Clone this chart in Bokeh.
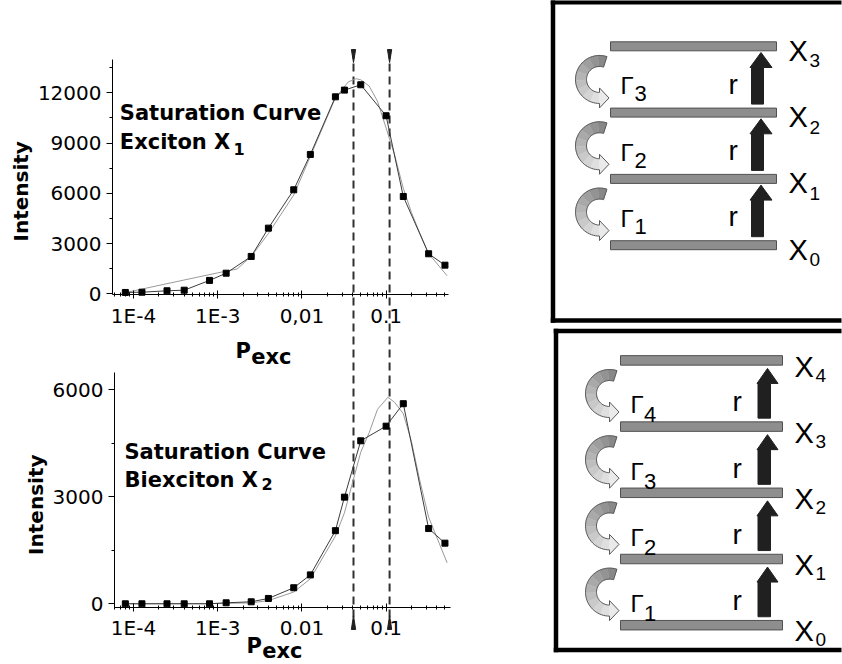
import math
from bokeh.plotting import figure
from bokeh.models import Range1d, LinearAxis, LogAxis, FixedTicker, Label
from bokeh.layouts import row
from bokeh.embed import file_html
from bokeh.resources import INLINE
from bokeh.core.properties import value

# ---------------- data ----------------
p_exc = [8e-5, 1.26e-4, 2.5e-4, 4e-4, 8e-4, 1.26e-3, 2.5e-3, 4e-3, 8e-3,
         1.26e-2, 2.5e-2, 3.2e-2, 5e-2, 0.1, 0.16, 0.32, 0.5]
exciton_x1 = [80, 95, 180, 215, 800, 1230, 2230, 3920, 6210,
              8320, 11760, 12160, 12480, 10630, 5810, 2390, 1710]
biexciton_x2 = [0, 0, 0, 0, 0, 28, 56, 150, 450,
                810, 2050, 2990, 4570, 4980, 5610, 2110, 1700]

fit_x_exciton = [8e-5, 3.2e-4, 1e-3, 1.7e-3, 2.5e-3, 4e-3, 8e-3, 1.26e-2, 2.5e-2,
                 3.55e-2, 4.4e-2, 5e-2, 6.3e-2, 7.9e-2, 0.1, 0.126, 0.16, 0.2,
                 0.25, 0.32, 0.53]
fit_exciton = [70, 720, 1250, 1480, 2230, 3600, 5900, 8200, 11700,
               12650, 12840, 12780, 12400, 11500, 9900, 8300, 6300, 4850,
               3650, 2400, 1080]
fit_x_biexciton = [8e-5, 1e-3, 2.5e-3, 4e-3, 8e-3, 1.26e-2, 2.5e-2, 3.2e-2, 4e-2,
                   5e-2, 6.3e-2, 7.9e-2, 0.105, 0.126, 0.16, 0.2, 0.25, 0.32, 0.53]
fit_biexciton = [5, 10, 25, 90, 330, 700, 1900, 2550, 3400,
                 4250, 4800, 5450, 5790, 5650, 5330, 4550, 3480, 2430, 1150]

markers = [0.041, 0.11]           # dashed P_exc markers

x_major = [1e-4, 1e-3, 1e-2, 1e-1]
top_x_labels = ["1E-4", "1E-3", "0,01", "0.1"]
bot_x_labels = ["1E-4", "1E-3", "0.01", "0.1"]
top_y_ticks = [0, 3000, 6000, 9000, 12000]
top_y_minor = [1500, 4500, 7500, 10500, 13500]
bot_y_ticks = [0, 3000, 6000]
bot_y_minor = [1500, 4500]

exciton_levels = ["0", "1", "2", "3"]
biexciton_levels = ["0", "1", "2", "3", "4"]

# ---------------- helpers: page pixel -> data, used to place annotations ----------------
PX_1E4, PX_DEC = 133.0, 84.2
def lx(px):
    return 10 ** (-4 + (px - PX_1E4) / PX_DEC)
def ty(py):
    return (293.3 - py) / 16.75 * 1000.0
def by(py):
    return (603.3 - py) / 35.67 * 1000.0

W_L, W_R, H = 540, 302, 662

# ---------------- left figure: both saturation curves ----------------
left = figure(width=W_L, height=H, x_axis_type="log",
              x_range=Range1d(lx(0), lx(W_L)), y_range=Range1d(ty(H), ty(0)),
              x_axis_location=None, y_axis_location=None, toolbar_location=None,
              output_backend="svg", title=None, min_border=0)
left.extra_y_ranges = {"bot": Range1d(by(H), by(0))}
left.grid.visible = False
left.outline_line_color = None

left.segment(x0=markers, y0=[ty(50)] * len(markers), x1=markers, y1=[ty(628)] * len(markers),
             line_color="#303030", line_width=2, line_dash="8 5")
tri_xs = [[m / 1.06, m * 1.06, m] for m in markers]
left.patches(tri_xs, [[ty(49), ty(49), ty(62)] for _ in markers], color="#202020")
left.patches(tri_xs, [[by(629), by(629), by(615)] for _ in markers], color="#202020",
             y_range_name="bot")

left.line(fit_x_exciton, fit_exciton, line_color="#9a9a9a", line_width=1)
left.line(p_exc, exciton_x1, line_color="#3c3c3c", line_width=1)
left.scatter(p_exc, exciton_x1, marker="square", size=6, color="black")

left.line(fit_x_biexciton, fit_biexciton, line_color="#9a9a9a", line_width=1, y_range_name="bot")
left.line(p_exc, biexciton_x2, line_color="#3c3c3c", line_width=1, y_range_name="bot")
left.scatter(p_exc, biexciton_x2, marker="square", size=6, color="black", y_range_name="bot")

X_LO, X_HI = lx(112), lx(450)
minor_x = [k * 10.0 ** e for e in range(-5, 0) for k in range(2, 10)
           if X_LO <= k * 10.0 ** e <= X_HI]

def style_axis(ax, vertical):
    ax.axis_line_color = "black"
    ax.major_tick_line_color = "black"
    ax.minor_tick_line_color = "black"
    ax.major_label_text_font = "DejaVu Sans"
    ax.major_label_text_font_size = "20px"
    ax.major_label_text_color = "black"
    if vertical:
        ax.major_tick_in, ax.major_tick_out = 0, 6
        ax.minor_tick_in, ax.minor_tick_out = 0, 3
        ax.major_label_standoff = 5
    else:
        ax.major_tick_in, ax.major_tick_out = 4, 4
        ax.minor_tick_in, ax.minor_tick_out = 2, 2
        ax.major_label_standoff = 5

ax_ty = LinearAxis(ticker=FixedTicker(ticks=top_y_ticks, minor_ticks=top_y_minor),
                   fixed_location=lx(112), bounds=(ty(294), ty(59.3)))
ax_by = LinearAxis(ticker=FixedTicker(ticks=bot_y_ticks, minor_ticks=bot_y_minor),
                   y_range_name="bot", fixed_location=lx(114), bounds=(by(606.7), by(372.3)))
ax_tx = LogAxis(ticker=FixedTicker(ticks=x_major, minor_ticks=minor_x),
                fixed_location=ty(294), bounds=(lx(112), lx(448)),
                major_label_overrides=dict(zip(x_major, top_x_labels)))
ax_bx = LogAxis(ticker=FixedTicker(ticks=x_major, minor_ticks=minor_x),
                y_range_name="bot", fixed_location=by(606.7), bounds=(lx(114), lx(450)),
                major_label_overrides=dict(zip(x_major, bot_x_labels)))
for ax, vert in ((ax_ty, True), (ax_by, True), (ax_tx, False), (ax_bx, False)):
    style_axis(ax, vert)
left.add_layout(ax_ty, "left")
left.add_layout(ax_by, "left")
left.add_layout(ax_tx, "below")
left.add_layout(ax_bx, "below")

def note(fig, x, y, text, size, yr="default", angle=0.0, align="left", baseline="alphabetic",
         font="DejaVu Sans", style="bold"):
    fig.add_layout(Label(x=x, y=y, text=text, text_font=font, text_font_size=size,
                         text_font_style=style, text_color="black", angle=angle,
                         text_align=align, text_baseline=baseline, y_range_name=yr))

note(left, lx(119.3), ty(112.7), "Saturation Curve", "21px")
note(left, lx(119.3), ty(141.7), "Exciton X", "21px")
note(left, lx(233), ty(148.3), "1", "16px")
note(left, lx(124), by(451), "Saturation Curve", "21px", yr="bot")
note(left, lx(124), by(479.3), "Biexciton X", "21px", yr="bot")
note(left, lx(261), by(483.3), "2", "16px", yr="bot")

note(left, lx(20.8), ty(190.8), "Intensity", "20px", angle=math.pi / 2, align="center", baseline="middle")
note(left, lx(35.8), by(504.2), "Intensity", "20px", yr="bot", angle=math.pi / 2, align="center", baseline="middle")

note(left, lx(235), ty(350), "P", "21px")
note(left, lx(250.7), ty(356.7), "exc", "21px")
note(left, lx(246), by(645), "P", "21px", yr="bot")
note(left, lx(261.7), by(650.5), "exc", "21px", yr="bot")

# ---------------- right figure: level schemes ----------------
right = figure(width=W_R, height=H, x_range=Range1d(W_L, W_L + W_R), y_range=Range1d(H, 0),
               x_axis_location=None, y_axis_location=None, toolbar_location=None,
               output_backend="svg", title=None, min_border=0)
right.grid.visible = False
right.outline_line_color = None

top_geo = dict(box=(552.5, 1.8, 320), bar=(610, 776), y0=244.7, pitch=66.3, bar_h=9,
               shaft=(751, 763), head=(749.5, 771.5), head_h=15, tip_gap=1.7, foot_gap=4,
               curl_cx=599, gamma_x=620, gamma_dy=-22.3, gsub_dx=14, gsub_dy=8,
               r_x=728, r_dy=-24, X_x=788, X_dy=0, xsub_dx=21, xsub_dy=10)
bot_geo = dict(box=(555.5, 330.5, 649.5), bar=(620, 782), y0=624.7, pitch=66.2, bar_h=9.5,
               shaft=(757.5, 770), head=(756.5, 777.5), head_h=15, tip_gap=3.3, foot_gap=3.7,
               curl_cx=609, gamma_x=630, gamma_dy=-17, gsub_dx=13.5, gsub_dy=10,
               r_x=732, r_dy=-20, X_x=794, X_dy=1.5, xsub_dx=21, xsub_dy=8.5)

def grey(t):
    v = int(round(0x88 + (0xea - 0x88) * t))
    return "#%02x%02x%02x" % (v, v, v)

def curl(fig, cx, cy, r_in=13.0, r_out=24.0, th0=72.0, th1=270.0, shades=9):
    def pt(r, th):
        a = math.radians(th)
        return cx + r * math.cos(a), cy - r * math.sin(a)
    xs, ys, cols = [], [], []
    for i in range(shades):
        a0 = th0 + (th1 - th0) * i / shades
        a1 = th0 + (th1 - th0) * (i + 1) / shades
        steps = [a0 + (a1 - a0) * k / 4 for k in range(5)]
        poly = [pt(r_out, a) for a in steps] + [pt(r_in, a) for a in reversed(steps)]
        xs.append([p[0] for p in poly]); ys.append([p[1] for p in poly])
        cols.append(grey(i / shades))
    rm = (r_in + r_out) / 2
    head = [(cx, cy + r_out + 4.5), (cx + 9.5, cy + rm), (cx, cy + r_in - 4.5)]
    xs.append([p[0] for p in head]); ys.append([p[1] for p in head]); cols.append(grey(1.0))
    fig.patches(xs, ys, fill_color=cols, line_color=cols, line_width=0.5)
    outline_steps = [th0 + (th1 - th0) * k / 40 for k in range(41)]
    outline = ([pt(r_out, a) for a in outline_steps] + head +
               [pt(r_in, a) for a in reversed(outline_steps)])
    outline.append(outline[0])
    fig.line([p[0] for p in outline], [p[1] for p in outline], line_color="#5a5a5a", line_width=1)

def draw_scheme(fig, levels, g):
    bl, bt, bb = g["box"]
    far = W_L + W_R - 1
    hw = 2.25
    # frame of the scheme as three filled strips (the right side runs off the page)
    fig.quad(left=[bl - hw, bl - hw, bl - hw], right=[far, bl + hw, far],
             top=[bt - hw, bt - hw, bb - hw], bottom=[bt + hw, bb + hw, bb + hw],
             fill_color="black", line_color=None)
    n = len(levels)
    yc = [g["y0"] - i * g["pitch"] for i in range(n)]
    tops = [y - g["bar_h"] / 2 for y in yc]
    bots = [y + g["bar_h"] / 2 for y in yc]
    fig.quad(left=g["bar"][0], right=g["bar"][1], top=tops, bottom=bots,
             fill_color="#8e8e8e", line_color="#505050", line_width=1)
    axs, ays = [], []
    s0, s1 = g["shaft"]
    h0, h1 = g["head"]
    g_y, r_y, rates = [], [], []
    for i in range(n - 1):
        upper_bottom, lower_top = bots[i + 1], tops[i]
        tip = upper_bottom + g["tip_gap"]
        base = tip + g["head_h"]
        foot = lower_top - g["foot_gap"]
        axs.append([s0, s0, h0, (h0 + h1) / 2, h1, s1, s1])
        ays.append([foot, base, base, tip, base, base, foot])
        curl(fig, g["curl_cx"], (upper_bottom + lower_top) / 2)
        g_y.append(lower_top + g["gamma_dy"])
        r_y.append(lower_top + g["r_dy"])
        rates.append(str(i + 1))
    fig.patches(axs, ays, fill_color="#202020", line_color="#202020", line_width=1)
    font = value("Liberation Sans")
    fig.text(x=[g["gamma_x"]] * len(g_y), y=g_y, text=["Γ"] * len(g_y), text_font=font,
             text_font_size="24px", text_color="black", text_baseline="alphabetic")
    fig.text(x=[g["gamma_x"] + g["gsub_dx"]] * len(g_y), y=[v + g["gsub_dy"] for v in g_y],
             text=rates, text_font=font, text_font_size="22px", text_color="black",
             text_baseline="alphabetic")
    fig.text(x=[g["r_x"]] * len(r_y), y=r_y, text=["r"] * len(r_y), text_font=font,
             text_font_size="28px", text_color="black", text_baseline="alphabetic")
    x_base = [b + g["X_dy"] for b in bots]
    fig.text(x=[g["X_x"]] * n, y=x_base, text=["X"] * n, text_font=font,
             text_font_size="29px", text_color="black", text_baseline="alphabetic")
    fig.text(x=[g["X_x"] + g["xsub_dx"]] * n, y=[v + g["xsub_dy"] for v in x_base],
             text=levels, text_font=font, text_font_size="19px", text_color="black",
             text_baseline="alphabetic")

draw_scheme(right, exciton_levels, top_geo)
draw_scheme(right, biexciton_levels, bot_geo)

layout = row(left, right)
open("out.html", "w").write(file_html(layout, INLINE))
